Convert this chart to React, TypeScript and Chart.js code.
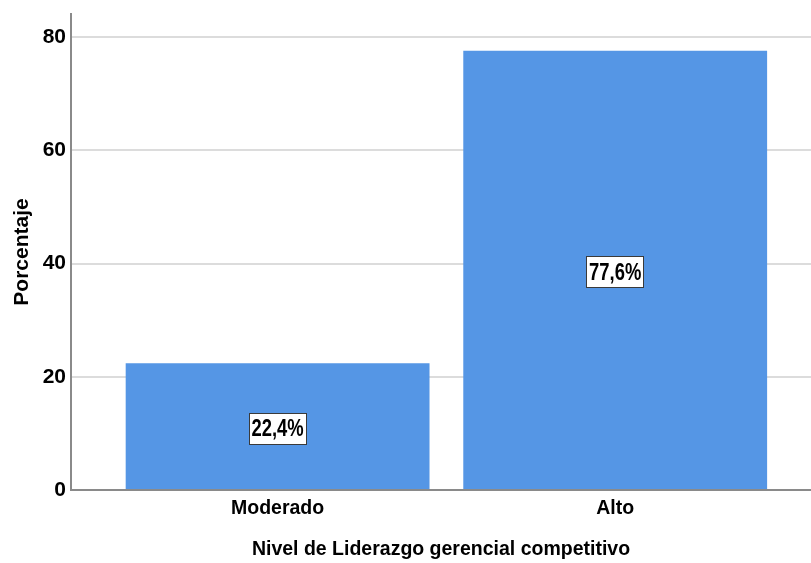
import React, { useEffect, useRef } from "react";
import { Chart, registerables } from "chart.js";

Chart.register(...registerables);

// Frequency distribution, in percent
const categories = ["Moderado", "Alto"];
const percentages = [22.4, 77.6];
const yTicks = [0, 20, 40, 60, 80];

const xTitle = "Nivel de Liderazgo gerencial competitivo";
const yTitle = "Porcentaje";

const SANS = "'Liberation Sans', Arial, sans-serif";

const formatPercent = (v: number) => `${v.toFixed(1).replace(".", ",")}%`;

// Boxed value labels centred inside each bar (condensed bold text)
const valueBoxes = {
  id: "valueBoxes",
  afterDatasetsDraw(chart: any) {
    const ctx = chart.ctx as CanvasRenderingContext2D;
    const meta = chart.getDatasetMeta(0);
    const yScale = chart.scales.y;
    const squeeze = 0.8;
    ctx.save();
    ctx.font = `bold 23px ${SANS}`;
    ctx.textAlign = "center";
    ctx.textBaseline = "middle";
    meta.data.forEach((bar: any, i: number) => {
      const v = percentages[i];
      const text = formatPercent(v);
      const cx = bar.x;
      const cy = yScale.getPixelForValue(v / 2) + 2;
      const w = Math.round(ctx.measureText(text).width * squeeze + 6);
      const h = 32;
      const left = Math.round(cx - w / 2);
      const top = Math.round(cy - h / 2);
      ctx.fillStyle = "#ffffff";
      ctx.fillRect(left, top, w, h);
      ctx.strokeStyle = "#3a3a3a";
      ctx.lineWidth = 1;
      ctx.strokeRect(left + 0.5, top + 0.5, w - 1, h - 1);
      ctx.save();
      ctx.translate(cx, cy + 1);
      ctx.scale(squeeze, 1);
      ctx.fillStyle = "#000000";
      ctx.fillText(text, 0, 0);
      ctx.restore();
    });
    ctx.restore();
  },
};

function BarChart() {
  const canvasRef = useRef<HTMLCanvasElement | null>(null);

  useEffect(() => {
    const canvas = canvasRef.current;
    if (!canvas) return;
    const chart = new Chart(canvas, {
      type: "bar",
      data: {
        datasets: [
          {
            label: yTitle,
            data: percentages.map((v, i) => ({ x: i, y: v })),
            backgroundColor: "#5596e5",
            borderWidth: 0,
            barPercentage: 0.9,
            categoryPercentage: 1,
          },
        ],
      },
      options: {
        responsive: false,
        animation: false,
        devicePixelRatio: 1,
        layout: { padding: { top: 14, right: 0, left: 0, bottom: 0 } },
        plugins: {
          legend: { display: false },
          tooltip: { enabled: false },
        },
        scales: {
          x: {
            type: "linear",
            offset: false,
            min: -0.612,
            max: 1.58,
            afterBuildTicks: (scale: any) => {
              scale.ticks = categories.map((_, i) => ({ value: i }));
            },
            afterFit: (scale: any) => {
              scale.height = 73;
              scale.paddingLeft = 0;
              scale.paddingRight = 0;
            },
            grid: { display: false, drawTicks: false },
            border: { display: true, color: "#8a8a8a", width: 2 },
            ticks: {
              autoSkip: false,
              maxRotation: 0,
              padding: 7,
              color: "#000000",
              font: { family: SANS, size: 19.5, weight: "bold" },
              callback: (value: any) => categories[Number(value)] ?? "",
            },
            title: {
              display: true,
              text: xTitle,
              color: "#000000",
              font: { family: SANS, size: 19.5, weight: "bold" },
              padding: { top: 0, bottom: 2 },
            },
          },
          y: {
            type: "linear",
            min: 0,
            max: 84.1,
            afterBuildTicks: (scale: any) => {
              scale.ticks = yTicks.map((v) => ({ value: v }));
            },
            afterFit: (scale: any) => {
              scale.width = 71;
              scale.paddingTop = 0;
              scale.paddingBottom = 0;
            },
            grid: { color: "#dcdcdc", lineWidth: 2, drawTicks: false },
            border: { display: true, color: "#8a8a8a", width: 2 },
            ticks: {
              padding: 5,
              color: "#000000",
              font: { family: SANS, size: 21, weight: "bold" },
              callback: (value: any) => String(value),
            },
            title: {
              display: true,
              text: yTitle,
              color: "#000000",
              font: { family: SANS, size: 21, weight: "bold" },
              padding: { top: 10, bottom: 0 },
            },
          },
        },
      },
      plugins: [valueBoxes],
    } as any);
    return () => chart.destroy();
  }, []);

  return <canvas ref={canvasRef} width={811} height={563} style={{ display: "block" }} />;
}

export default function App() {
  return (
    <div style={{ position: "fixed", left: 0, top: 0, width: 811, height: 563, background: "#ffffff" }}>
      <BarChart />
    </div>
  );
}
